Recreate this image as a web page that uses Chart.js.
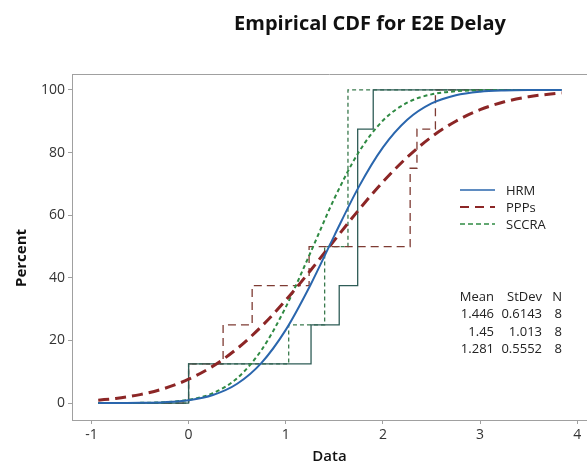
<!DOCTYPE html>
<html><head><meta charset="utf-8">
<script src="https://cdn.jsdelivr.net/npm/chart.js@4"></script>
<style>html,body{margin:0;padding:0;background:#fff;}#wrap{width:587px;height:465px;position:relative;}</style>
</head><body><div id="wrap"><canvas id="c" width="587" height="465"></canvas></div>
<script>
// ---- data ----
const seriesNames = ['HRM', 'PPPs', 'SCCRA'];
// raw sample values (ECDF steps), n = 8 each
const hrmData   = [0, 1.26, 1.55, 1.74, 1.74, 1.74, 1.74, 1.90];
const pppsData  = [0, 0.355, 0.654, 1.24, 2.28, 2.28, 2.35, 2.54];
const sccraData = [0, 1.03, 1.40, 1.40, 1.64, 1.64, 1.64, 1.64];
const lineStart = -0.93, lineEnd = 3.84;
// fitted CDF curves (percent), read at these x positions
const curveX   = [-0.93, -0.75, -0.5, -0.25, 0, 0.25, 0.5, 0.75, 1, 1.25, 1.5, 1.75, 2, 2.25, 2.5, 2.75, 3, 3.25, 3.5, 3.84];
const hrmFit   = [0.005, 0.02, 0.08, 0.29, 0.93, 2.58, 6.18, 12.86, 23.39, 37.48, 53.5, 68.97, 81.65, 90.47, 95.69, 98.31, 99.43, 99.83, 99.96, 99.99];
const pppsFit  = [0.94, 1.49, 2.71, 4.67, 7.62, 11.8, 17.41, 24.48, 32.85, 42.19, 51.97, 61.65, 70.64, 78.52, 85.01, 90.03, 93.7, 96.22, 97.85, 99.08];
const sccraFit = [0.003, 0.013, 0.07, 0.29, 1.05, 3.17, 7.97, 16.95, 30.64, 47.77, 65.33, 80.09, 90.23, 95.95, 98.6, 99.59, 99.9, 99.98, 100, 100];
// summary table
const statMean  = ['1.446', '1.45', '1.281'];
const statStDev = ['0.6143', '1.013', '0.5552'];
const statN     = ['8', '8', '8'];
const xTicks = [-1, 0, 1, 2, 3, 4];
const yTicks = [0, 20, 40, 60, 80, 100];

// ---- build tables ----
function ecdf(vals) {
  const s = vals.slice().sort((a, b) => a - b);
  const pts = [{x: lineStart, y: 0}];
  s.forEach((v, i) => pts.push({x: v, y: (i + 1) / s.length * 100}));
  pts.push({x: lineEnd, y: 100});
  return pts;
}
const curve = arr => curveX.map((x, i) => ({x: x, y: arr[i]}));

const C = {
  hrm: '#2a66ad', hrmStep: '#2f5d57',
  ppps: '#8c2626', pppsStep: '#7e3b33',
  sccra: '#2f8a43', sccraStep: '#3a7a4e'
};
const FONT = '"Open Sans", "Noto Sans", sans-serif';
const AX = '#a0a0a0';

const datasets = [
  {label: 'HRM', data: curve(hrmFit), borderColor: C.hrm, borderWidth: 2, cubicInterpolationMode: 'monotone', order: 1},
  {label: 'PPPs', data: curve(pppsFit), borderColor: C.ppps, borderWidth: 3, borderDash: [11, 6], cubicInterpolationMode: 'monotone', order: 2},
  {label: 'SCCRA', data: curve(sccraFit), borderColor: C.sccra, borderWidth: 2, borderDash: [4, 3], cubicInterpolationMode: 'monotone', order: 3},
  {label: 'HRM ecdf', data: ecdf(hrmData), borderColor: C.hrmStep, borderWidth: 1.3, stepped: true, order: 4},
  {label: 'PPPs ecdf', data: ecdf(pppsData), borderColor: C.pppsStep, borderWidth: 1.3, borderDash: [8, 5], stepped: true, order: 5},
  {label: 'SCCRA ecdf', data: ecdf(sccraData), borderColor: C.sccraStep, borderWidth: 1.3, borderDash: [4, 3], stepped: true, order: 6}
].map(d => Object.assign({showLine: true, pointRadius: 0, fill: false, tension: 0}, d));

const textPlugin = {
  id: 'texts',
  afterDraw(chart) {
    const ctx = chart.ctx, a = chart.chartArea;
    ctx.save();
    // top frame line
    ctx.strokeStyle = AX; ctx.lineWidth = 1;
    ctx.beginPath(); ctx.moveTo(a.left, a.top + 0.5); ctx.lineTo(a.right, a.top + 0.5); ctx.stroke();
    ctx.fillStyle = '#111';
    // title
    ctx.font = 'bold 20px ' + FONT; ctx.textAlign = 'center'; ctx.textBaseline = 'middle';
    ctx.fillText('Empirical CDF for E2E Delay', 370, 24);
    // axis titles
    ctx.font = '600 15px ' + FONT;
    ctx.fillText('Data', (a.left + a.right) / 2, 457);
    ctx.save(); ctx.translate(22, 258); ctx.rotate(-Math.PI / 2);
    ctx.font = 'bold 15px ' + FONT; ctx.fillText('Percent', 0, 0); ctx.restore();
    // legend
    const lx0 = 460, lx1 = 495, ly = [190, 207, 224];
    const styles = [
      {c: C.hrm, w: 1.5, d: []},
      {c: C.ppps, w: 2, d: [9, 6]},
      {c: C.sccra, w: 1.5, d: [5, 3]}
    ];
    ctx.font = '13px ' + FONT; ctx.textAlign = 'left'; ctx.fillStyle = '#222';
    seriesNames.forEach((n, i) => {
      ctx.strokeStyle = styles[i].c; ctx.lineWidth = styles[i].w; ctx.setLineDash(styles[i].d);
      ctx.beginPath(); ctx.moveTo(lx0, ly[i]); ctx.lineTo(lx1, ly[i]); ctx.stroke();
      ctx.fillText(n, 506, ly[i] + 1);
    });
    ctx.setLineDash([]);
    // stats table
    ctx.textAlign = 'right';
    const rows = [297, 314, 332, 349];
    ctx.fillText('Mean', 494, rows[0]); ctx.fillText('StDev', 542, rows[0]); ctx.fillText('N', 562, rows[0]);
    for (let i = 0; i < 3; i++) {
      ctx.fillText(statMean[i], 494, rows[i + 1]);
      ctx.fillText(statStDev[i], 542, rows[i + 1]);
      ctx.fillText(statN[i], 562, rows[i + 1]);
    }
    ctx.restore();
  }
};

new Chart(document.getElementById('c'), {
  type: 'scatter',
  data: {datasets},
  options: {
    responsive: false, animation: false,
    layout: {padding: {top: 74, left: 0, right: 0, bottom: 0}},
    plugins: {legend: {display: false}, tooltip: {enabled: false}, title: {display: false}},
    scales: {
      x: {
        type: 'linear', min: -1.2, max: 4.1,
        afterBuildTicks: s => { s.ticks = xTicks.map(v => ({value: v})); },
        afterFit: s => { s.height = 45; },
        grid: {display: true, drawOnChartArea: false, tickLength: 4, color: AX},
        border: {display: true, color: AX},
        ticks: {font: {family: FONT, size: 14}, color: '#333', padding: 3, maxRotation: 0}
      },
      y: {
        type: 'linear', min: -5.4, max: 105.1,
        afterBuildTicks: s => { s.ticks = yTicks.map(v => ({value: v})); },
        afterFit: s => { s.width = 72; },
        grid: {display: true, drawOnChartArea: false, tickLength: 4, color: AX},
        border: {display: true, color: AX},
        ticks: {font: {family: FONT, size: 14}, color: '#333', padding: 3}
      }
    }
  },
  plugins: [textPlugin]
});
</script>
</body></html>
